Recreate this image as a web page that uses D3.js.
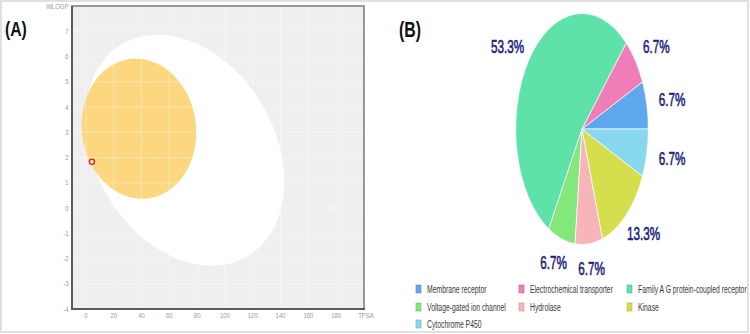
<!DOCTYPE html>
<html><head><meta charset="utf-8">
<script src="https://cdn.jsdelivr.net/npm/d3@7"></script>
<style>
html,body{margin:0;padding:0;background:#fff;}
svg{display:block;font-family:"Liberation Sans",Arial,sans-serif;}
</style></head>
<body>
<svg id="c" width="750" height="334"></svg>
<script>
// ---------- Panel A data (BOILED-Egg) ----------
const xTicks = [0,20,40,60,80,100,120,140,160,180];
const yTicks = [-4,-3,-2,-1,0,1,2,3,4,5,6,7];
const xDomain = [-10,200];
const yDomain = [-4,8];
// ellipses: center (TPSA, WLOGP) and two conjugate half-axis vectors in data units
const whiteCenter = [71.05, 2.29];
const whiteU = [71.6, -1.24];
const whiteV = [0, 4.40];
const yolkCenter = [38.1, 3.14];
const yolkU = [41.2, -0.15];
const yolkV = [0, 2.77];
const molTPSA = [4.3];
const molWLOGP = [1.83];

// ---------- Panel B data (target classes) ----------
const categories = ["Membrane receptor","Electrochemical transporter","Family A G protein-coupled receptor",
  "Voltage-gated ion channel","Hydrolase","Kinase","Cytochrome P450"];
const percents = [6.7,6.7,53.3,6.7,6.7,13.3,6.7];
const pieColors = ["#5ea8ee","#f07db8","#5ee2a9","#84e77c","#f6b5b9","#d5df4e","#87d8ef"];

const svg = d3.select("#c");
svg.append("rect").attr("x",0).attr("y",0).attr("width",750).attr("height",334).attr("fill","#fff");

// ================= Panel A =================
const x = d3.scaleLinear().domain(xDomain).range([72,364]);
const y = d3.scaleLinear().domain(yDomain).range([309,6]);
const A = svg.append("g");
A.append("rect").attr("x",x(xDomain[0])).attr("y",y(yDomain[1]))
  .attr("width",x(xDomain[1])-x(xDomain[0])).attr("height",y(yDomain[0])-y(yDomain[1]))
  .attr("fill","#efefef");

function ellipsePath(c,U,V){
  const ts = d3.range(0,361,3).map(d=>d*Math.PI/180);
  return d3.line().x(t=>x(c[0]+U[0]*Math.cos(t)+V[0]*Math.sin(t)))
                  .y(t=>y(c[1]+U[1]*Math.cos(t)+V[1]*Math.sin(t)))
                  .curve(d3.curveLinearClosed)(ts);
}
A.append("path").attr("d",ellipsePath(whiteCenter,whiteU,whiteV)).attr("fill","#ffffff");
A.append("path").attr("d",ellipsePath(yolkCenter,yolkU,yolkV)).attr("fill","#fdd77f");

// grid
A.append("g").selectAll("line").data(xTicks).join("line")
  .attr("x1",d=>x(d)).attr("x2",d=>x(d)).attr("y1",y(yDomain[0])).attr("y2",y(yDomain[1]))
  .attr("stroke","rgba(255,255,255,0.35)").attr("stroke-width",1);
A.append("g").selectAll("line").data(yTicks).join("line")
  .attr("y1",d=>y(d)).attr("y2",d=>y(d)).attr("x1",x(xDomain[0])).attr("x2",x(xDomain[1]))
  .attr("stroke","rgba(255,255,255,0.35)").attr("stroke-width",1);

// frame
A.append("rect").attr("x",x(xDomain[0])).attr("y",y(yDomain[1]))
  .attr("width",x(xDomain[1])-x(xDomain[0])).attr("height",y(yDomain[0])-y(yDomain[1]))
  .attr("fill","none").attr("stroke","#7a7a7a").attr("stroke-width",1.5);
A.append("line").attr("x1",x(xDomain[0])).attr("x2",x(xDomain[0])).attr("y1",y(yDomain[1])).attr("y2",y(yDomain[0])+1)
  .attr("stroke","#5a5a5a").attr("stroke-width",2);
A.append("line").attr("x1",x(xDomain[0])-1).attr("x2",x(xDomain[1])+1).attr("y1",y(yDomain[0])).attr("y2",y(yDomain[0]))
  .attr("stroke","#5a5a5a").attr("stroke-width",2);

// molecule point
A.append("g").selectAll("circle").data(molTPSA).join("circle")
  .attr("cx",d=>x(d)).attr("cy",(d,i)=>y(molWLOGP[i])).attr("r",2.6)
  .attr("fill","#fbd0c8").attr("stroke","#e3211c").attr("stroke-width",1.3);

// tick labels
const tickStyle = s => s.attr("font-size",7.5).attr("fill","#9a9a9a");
A.append("g").selectAll("text").data(yTicks).join("text")
  .attr("transform",d=>`translate(68.5,${y(d)}) scale(0.8,1)`)
  .attr("text-anchor","end").attr("dy","0.35em").text(d=>d).call(tickStyle);
A.append("g").selectAll("text").data(xTicks).join("text")
  .attr("transform",d=>`translate(${x(d)},315.5) scale(0.8,1)`)
  .attr("text-anchor","middle").attr("dy","0.35em").text(d=>d).call(tickStyle);
A.append("text").attr("transform",`translate(${x(200)+2},315.5) scale(0.8,1)`)
  .attr("text-anchor","middle").attr("dy","0.35em").text("TPSA").call(tickStyle);
A.append("text").attr("transform",`translate(68.5,6) scale(0.8,1)`)
  .attr("text-anchor","end").attr("dy","0.35em").text("WLOGP").call(tickStyle);

// panel labels
svg.append("text").attr("transform","translate(5,36) scale(0.75,1)")
  .attr("font-size",21).attr("font-weight","bold").attr("fill","#111").text("(A)");
svg.append("text").attr("transform","translate(399,36.5) scale(0.72,1)")
  .attr("font-size",22).attr("font-weight","bold").attr("fill","#111").text("(B)");

// ================= Panel B =================
const cx = 582, cy = 129, rx = 66.3, ry = 115.5;
const pie = d3.pie().sort(null).value(d=>d)
  .startAngle(Math.PI/2).endAngle(Math.PI/2 - 2*Math.PI);
const arcs = pie(percents);
const arc = d3.arc().innerRadius(0).outerRadius(ry);
const B = svg.append("g").attr("transform",`translate(${cx},${cy}) scale(${rx/ry},1)`);
B.selectAll("path").data(arcs).join("path")
  .attr("d",arc).attr("fill",(d,i)=>pieColors[i])
  .attr("stroke","#fff").attr("stroke-width",0.7).attr("vector-effect","non-scaling-stroke");

// labels
const Lx = 92, Ly = 140;
svg.append("g").selectAll("text").data(arcs).join("text")
  .attr("transform",d=>{
    const a=(d.startAngle+d.endAngle)/2;
    return `translate(${cx+Math.sin(a)*Lx},${cy-Math.cos(a)*Ly}) scale(0.65,1)`;
  })
  .attr("text-anchor","middle").attr("dy","0.36em")
  .attr("font-size",18).attr("fill","#23237a")
  .attr("stroke","#23237a").attr("stroke-width",0.6)
  .text(d=>d.data.toFixed(1)+"%");

// legend
const colX = [416,519,627], rowY = [289,307,324];
const leg = svg.append("g").selectAll("g").data(categories).join("g")
  .attr("transform",(d,i)=>`translate(${colX[i%3]},${rowY[Math.floor(i/3)]})`);
leg.append("rect").attr("x",0).attr("y",-4).attr("width",5).attr("height",8)
  .attr("fill",(d,i)=>pieColors[i]).attr("stroke",(d,i)=>d3.color(pieColors[i]).darker(0.6)).attr("stroke-width",0.6);
leg.append("text").attr("transform","translate(11,0) scale(0.62,1)")
  .attr("dy","0.35em").attr("font-size",11).attr("fill","#3a3a3a").text(d=>d);

// outer border
svg.append("rect").attr("x",1).attr("y",1).attr("width",747).attr("height",331)
  .attr("fill","none").attr("stroke","#d6d6d6").attr("stroke-width",1.5);
</script>
</body></html>
